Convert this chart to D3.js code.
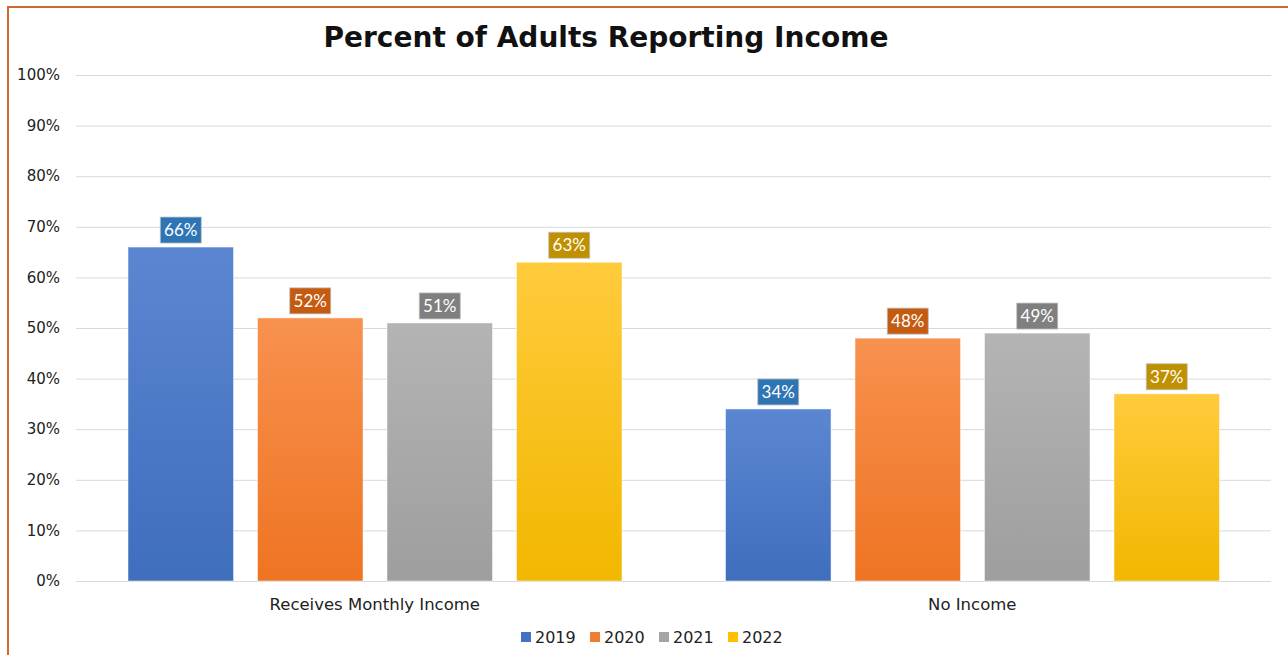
<!DOCTYPE html>
<html><head><meta charset="utf-8">
<script src="https://cdn.jsdelivr.net/npm/d3@7"></script>
<style>body{margin:0;background:#fff;overflow:hidden}svg{display:block}</style>
</head><body>
<svg id="c" width="1288" height="655"></svg>
<script>
const categories = ["Receives Monthly Income", "No Income"];
const years = ["2019", "2020", "2021", "2022"];
const v2019 = [66, 34];
const v2020 = [52, 48];
const v2021 = [51, 49];
const v2022 = [63, 37];
const yTicks = [0,10,20,30,40,50,60,70,80,90,100];
const seriesVals = [v2019, v2020, v2021, v2022];
const topCol = ["#5B86D2", "#F8914F", "#B4B4B4", "#FFCB3C"];
const botCol = ["#3F6EBD", "#EE7422", "#9E9E9E", "#F2B700"];
const legCol = ["#4472C4", "#ED7D31", "#A5A5A5", "#FFC000"];
const lblCol = ["#2E75B6", "#C55A11", "#7F7F7F", "#BF9000"];

const svg = d3.select("#c");
const font = "'DejaVu Sans', Tahoma, sans-serif";
// frame
svg.append("rect").attr("x",8).attr("y",7).attr("width",1300).attr("height",700)
  .attr("fill","none").attr("stroke","#D06A2A").attr("stroke-width",2);

const L=76, R=1271, T=75, B=581;
const x0 = d3.scaleBand().domain(categories).range([L,R]).paddingInner(0).paddingOuter(0);
const x1 = d3.scaleBand().domain(years).range([52,x0.bandwidth()-51.5]).paddingInner(0.185);
const y = d3.scaleLinear().domain([0,100]).range([B,T]);

const defs = svg.append("defs");
years.forEach((yr,i)=>{
  const g = defs.append("linearGradient").attr("id","g"+i).attr("x1",0).attr("x2",0).attr("y1",0).attr("y2",1);
  g.append("stop").attr("offset","0%").attr("stop-color",topCol[i]);
  g.append("stop").attr("offset","100%").attr("stop-color",botCol[i]);
});

// grid
svg.append("g").selectAll("line").data(yTicks).join("line")
  .attr("x1",L).attr("x2",R).attr("y1",d=>y(d)+0.5).attr("y2",d=>y(d)+0.5)
  .attr("stroke","#D9D9D9").attr("stroke-width",1);
// y labels
svg.append("g").selectAll("text").data(yTicks).join("text")
  .attr("x",60).attr("y",d=>y(d)).attr("dy","0.35em").attr("text-anchor","end")
  .attr("font-family",font).attr("font-size",15).attr("fill","#222")
  .text(d=>d+"%");

// bars
const groups = svg.append("g").selectAll("g").data(categories).join("g")
  .attr("transform",d=>`translate(${x0(d)},0)`);
years.forEach((yr,i)=>{
  groups.append("rect")
    .attr("x",x1(yr)).attr("width",x1.bandwidth())
    .attr("y",(d,ci)=>y(seriesVals[i][ci])).attr("height",(d,ci)=>B-y(seriesVals[i][ci]))
    .attr("fill",`url(#g${i})`).attr("stroke","rgba(255,255,255,0.5)").attr("stroke-width",1);
  const lg = groups.append("g").attr("transform",(d,ci)=>`translate(${x1(yr)+x1.bandwidth()/2},${y(seriesVals[i][ci])-17})`);
  lg.append("rect").attr("x",-20.5).attr("y",-13).attr("width",41).attr("height",26)
    .attr("fill",lblCol[i]).attr("stroke","#BFBFBF").attr("stroke-width",0.8);
  lg.append("text").attr("text-anchor","middle").attr("dy","0.36em")
    .attr("font-family","Lato, 'Open Sans', sans-serif").attr("font-size",17).attr("fill","#fff")
    .text((d,ci)=>seriesVals[i][ci]+"%");
});

// category labels
svg.append("g").selectAll("text").data(categories).join("text")
  .attr("x",d=>x0(d)+x0.bandwidth()/2).attr("y",604).attr("dy","0.35em").attr("text-anchor","middle")
  .attr("font-family",font).attr("font-size",16.5).attr("fill","#222").text(d=>d);

// title
svg.append("text").attr("x",606).attr("y",37).attr("dy","0.35em").attr("text-anchor","middle")
  .attr("font-family",font).attr("font-weight","bold").attr("font-size",28).attr("fill","#111")
  .text("Percent of Adults Reporting Income");

// legend
const legX = [521, 590, 659, 728];
const lg = svg.append("g").selectAll("g").data(years).join("g")
  .attr("transform",(d,i)=>`translate(${legX[i]},637)`);
lg.append("rect").attr("x",0).attr("y",-5).attr("width",10).attr("height",10).attr("fill",(d,i)=>legCol[i]);
lg.append("text").attr("x",14).attr("dy","0.36em").attr("font-family",font).attr("font-size",16).attr("fill","#222").text(d=>d);
</script>
</body></html>
